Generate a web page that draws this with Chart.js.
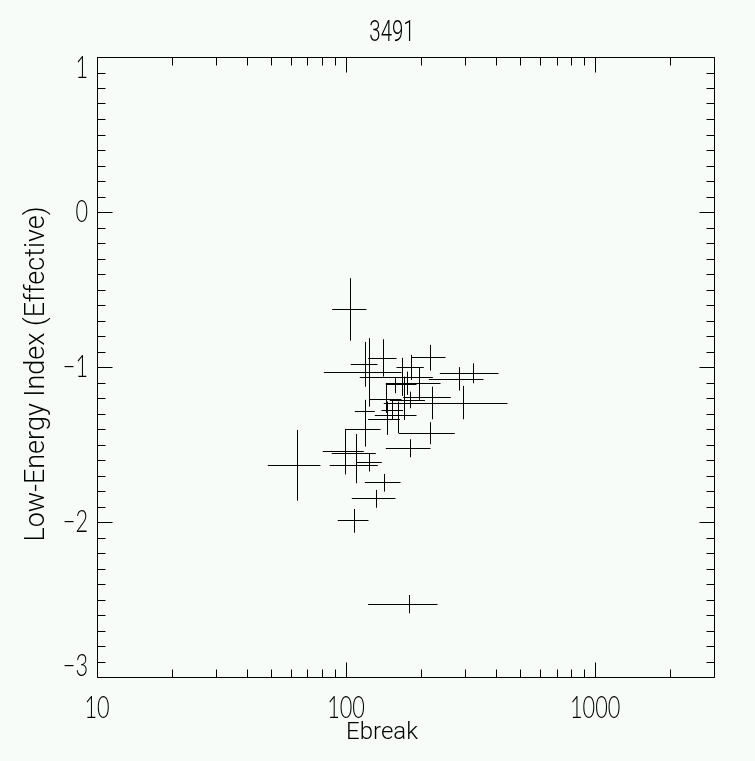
<!DOCTYPE html>
<html>
<head>
<meta charset="utf-8">
<script src="https://cdn.jsdelivr.net/npm/chart.js@4/dist/chart.umd.min.js"></script>
<style>
	html, body { margin: 0; padding: 0; background: #f8fcf8; }
</style>
</head>
<body>
<canvas id="chart" width="755" height="761"></canvas>
<script>
// break energy (keV) with lower / upper ends of its error bar
var ebreak   = [103.8, 119.2, 123.7, 140.8, 217.5, 182.4, 284.3, 323.6, 295.1, 63.6,
                217.5, 180.7, 142.1, 132.0, 107.7, 118.6, 99.4, 123.7, 109.7, 109.7,
                178.1, 118.9, 144.4, 146.1, 161.8, 167.9, 196.5, 175.8, 220.3, 170.5,
                157.3, 152.6, 180.7];
var ebreakLo = [87.9, 104.4, 81.4, 122.6, 183.1, 159.4, 214.8, 237.9, 141.7, 48.5,
                162.8, 144.4, 118.9, 105.4, 92.6, 99.1, 80.6, 110.1, 87.6, 86.0,
                122.6, 108.4, 123.7, 122.6, 130.4, 113.5, 144.4, 154.4, 169.4, 149.8,
                144.4, 138.8, 156.9];
var ebreakHi = [120.8, 133.7, 167.0, 159.4, 250.7, 205.1, 356.3, 409.3, 444.8, 78.9,
                273.2, 218.3, 165.4, 157.9, 123.0, 137.5, 117.8, 139.1, 131.6, 134.1,
                232.9, 130.4, 167.0, 164.4, 191.8, 223.0, 239.4, 196.5, 263.3, 207.0,
                191.8, 169.4, 207.0];

// low-energy index with lower / upper ends of its error bar
var lowIndex   = [-0.627, -0.982, -1.034, -0.943, -0.937, -1.001, -1.077, -1.040, -1.234, -1.634,
                  -1.427, -1.524, -1.744, -1.847, -1.989, -1.402, -1.545, -1.615, -1.557, -1.634,
                  -2.529, -1.287, -1.208, -1.337, -1.309, -1.066, -1.105, -1.101, -1.195, -1.212,
                  -1.111, -1.277, -1.212];
var lowIndexLo = [-0.830, -1.127, -1.256, -1.062, -1.023, -1.083, -1.152, -1.105, -1.337, -1.863,
                  -1.498, -1.582, -1.804, -1.908, -2.069, -1.514, -1.693, -1.674, -1.664, -1.750,
                  -2.589, -1.361, -1.296, -1.438, -1.427, -1.187, -1.212, -1.180, -1.337, -1.342,
                  -1.169, -1.342, -1.266];
var lowIndexHi = [-0.427, -0.838, -0.814, -0.821, -0.857, -0.922, -1.001, -0.976, -1.122, -1.406,
                  -1.356, -1.466, -1.690, -1.793, -1.916, -1.290, -1.402, -1.557, -1.432, -1.535,
                  -2.471, -1.212, -1.116, -1.223, -1.223, -0.941, -1.001, -1.030, -1.127, -1.062,
                  -1.072, -1.212, -1.159];

// axis ticks and texts
var xMajor = [10, 100, 1000];
var xMinor = [20, 30, 40, 50, 60, 70, 80, 90, 200, 300, 400, 500, 600, 700, 800, 900, 2000];
var yMajor = [-3, -2, -1, 0, 1];
var chartTitle = '3491';
var xTitle = 'Ebreak';
var yTitle = 'Low-Energy Index (Effective)';

var BG = '#f8fcf8';
var INK = '#000000';
var FONT = "Roboto, 'Liberation Sans', sans-serif";
var TICKFONT = "Lato, 'Liberation Sans', sans-serif";

const background = {
	id: 'background',
	beforeDraw(chart) {
		const ctx = chart.ctx;
		ctx.save();
		ctx.fillStyle = BG;
		ctx.fillRect(0, 0, chart.width, chart.height);
		ctx.restore();
	}
};

// box round the plot with inward tick marks on all four sides
const frame = {
	id: 'frame',
	afterDraw(chart) {
		const {ctx, chartArea: {left, top, right, bottom}, scales: {x, y}} = chart;
		const L = Math.round(left) + 0.5, R = Math.round(right) + 0.5;
		const T = Math.round(top) + 0.5, B = Math.round(bottom) + 0.5;
		ctx.save();
		ctx.strokeStyle = INK;
		ctx.lineWidth = 1;
		ctx.beginPath();
		ctx.rect(L, T, R - L, B - T);

		function xTick(v, len) {
			var px = Math.round(x.getPixelForValue(v)) + 0.5;
			ctx.moveTo(px, B); ctx.lineTo(px, B - len);
			ctx.moveTo(px, T); ctx.lineTo(px, T + len);
		}
		function yTick(v, len) {
			var py = Math.round(y.getPixelForValue(v)) + 0.5;
			ctx.moveTo(L, py); ctx.lineTo(L + len, py);
			ctx.moveTo(R, py); ctx.lineTo(R - len, py);
		}
		xMajor.forEach(v => xTick(v, 15));
		xMinor.forEach(v => xTick(v, 8));
		for (var k = 0; k <= 40; k++) {
			yTick(-3 + k / 10, k % 10 === 0 ? 15 : 8);
		}
		ctx.stroke();
		ctx.restore();
	}
};

// narrow, thin lettering like the plotting package's vector font
function drawText(ctx, text, cx, cy, font, squeeze, angle) {
	ctx.save();
	ctx.translate(cx, cy);
	if (angle) ctx.rotate(angle);
	ctx.scale(squeeze, 1);
	ctx.font = font;
	ctx.fillStyle = INK;
	ctx.textAlign = 'center';
	ctx.textBaseline = 'middle';
	ctx.fillText(text, 0, 0);
	ctx.restore();
}

const labels = {
	id: 'labels',
	afterDraw(chart) {
		const {ctx, chartArea: {left, top, right, bottom}, scales: {x, y}} = chart;
		var tickFont = '300 31px ' + TICKFONT, squeeze = 0.7;
		xMajor.forEach(v => {
			drawText(ctx, String(v), x.getPixelForValue(v), 708, tickFont, squeeze);
		});
		yMajor.forEach(v => {
			var txt = v < 0 ? '\u2212' + Math.abs(v) : String(v);
			ctx.font = tickFont;
			var w = ctx.measureText(txt).width * squeeze;
			var py = Math.min(Math.max(y.getPixelForValue(v), top + 11), bottom - 11);
			drawText(ctx, txt, left - 9 - w / 2, py, tickFont, squeeze);
		});
		drawText(ctx, chartTitle, 392, 33, '300 30px ' + FONT, 0.68);
		drawText(ctx, xTitle, 382, 733, '300 24px ' + FONT, 1);
		drawText(ctx, yTitle, 37, 374, '300 27px ' + FONT, 1, -Math.PI / 2);
	}
};

// crosses: horizontal bar for Ebreak, vertical bar for the index
const errorBars = {
	id: 'errorBars',
	afterDatasetsDraw(chart) {
		const {ctx, scales: {x, y}} = chart;
		ctx.save();
		ctx.strokeStyle = INK;
		ctx.lineWidth = 1;
		ctx.beginPath();
		for (var i = 0; i < ebreak.length; i++) {
			var cx = Math.round(x.getPixelForValue(ebreak[i])) + 0.5,
				cy = Math.round(y.getPixelForValue(lowIndex[i])) + 0.5;
			ctx.moveTo(x.getPixelForValue(ebreakLo[i]), cy);
			ctx.lineTo(x.getPixelForValue(ebreakHi[i]), cy);
			ctx.moveTo(cx, y.getPixelForValue(lowIndexLo[i]));
			ctx.lineTo(cx, y.getPixelForValue(lowIndexHi[i]));
		}
		ctx.stroke();
		ctx.restore();
	}
};

var points = ebreak.map((e, i) => ({x: e, y: lowIndex[i]}));

var chart = new Chart(document.getElementById('chart'), {
	type: 'scatter',
	data: {
		datasets: [{
			data: points,
			pointRadius: 0,
			pointHoverRadius: 0,
			showLine: false
		}]
	},
	options: {
		responsive: false,
		animation: false,
		layout: { padding: { left: 0, right: 41, top: 57, bottom: 0 } },
		plugins: {
			legend: { display: false },
			tooltip: { enabled: false },
			title: { display: false }
		},
		scales: {
			x: {
				type: 'logarithmic',
				min: 10,
				max: 3000,
				grid: { display: false },
				border: { display: false },
				ticks: { display: false },
				afterFit: function (scale) { scale.height = 84; }
			},
			y: {
				min: -3,
				max: 1,
				grid: { display: false },
				border: { display: false },
				ticks: { display: false },
				afterFit: function (scale) { scale.width = 97; }
			}
		}
	},
	plugins: [background, frame, errorBars, labels]
});
</script>
</body>
</html>
